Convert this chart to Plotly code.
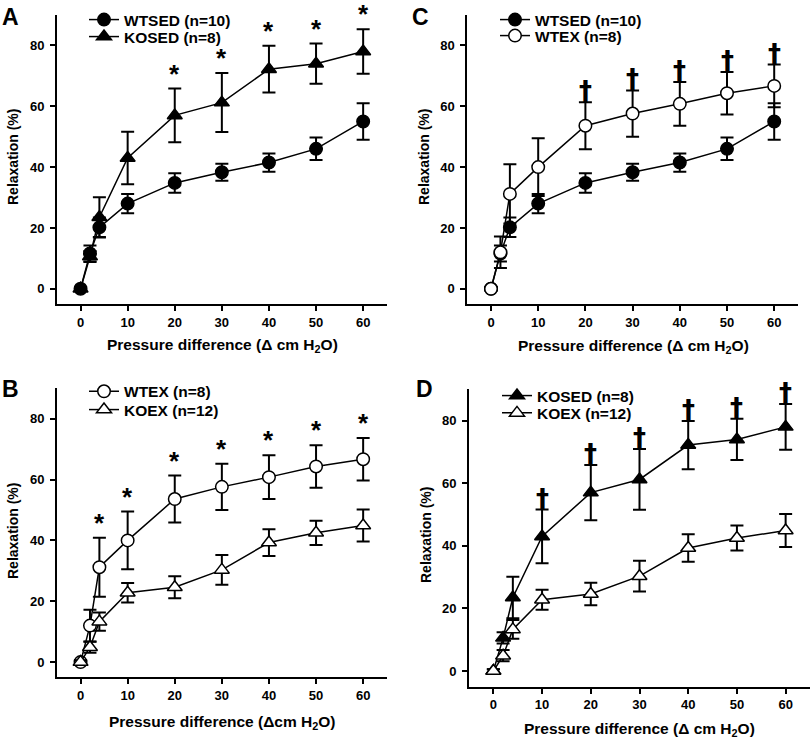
import plotly.graph_objects as go

# ---------------- data ----------------
pressure = [0, 2, 4, 10, 20, 30, 40, 50, 60]

wtsed_mean = [0, 11.6, 20.2, 28.0, 34.8, 38.3, 41.5, 46.0, 55.0]
wtsed_err = [0.6, 2.6, 3.2, 3.2, 3.2, 2.8, 3.0, 3.7, 6.0]

kosed_mean = [0, 10.6, 23.5, 43.0, 57.0, 61.2, 72.2, 74.0, 78.0]
kosed_err = [0.6, 1.8, 6.6, 8.6, 8.8, 9.7, 7.7, 6.6, 7.3]

wtex_mean = [0, 12.0, 31.2, 40.0, 53.6, 57.6, 60.8, 64.3, 66.7]
wtex_err = [0.6, 5.2, 9.7, 9.5, 7.7, 7.6, 7.2, 7.0, 7.0]

koex_mean = [0, 4.9, 13.3, 22.8, 24.6, 30.3, 39.3, 42.5, 44.9]
koex_err = [0.6, 1.8, 3.0, 3.2, 3.6, 4.9, 4.4, 4.0, 5.3]

sig_A = [20, 30, 40, 50, 60]          # * KOSED vs WTSED
sig_B = [4, 10, 20, 30, 40, 50, 60]   # * WTEX vs KOEX
sig_C = [20, 30, 40, 50, 60]          # dagger WTEX vs WTSED
sig_D = [10, 20, 30, 40, 50, 60]      # dagger KOSED vs KOEX

x_ticks = [0, 10, 20, 30, 40, 50, 60]
y_ticks = [0, 20, 40, 60, 80]

FONT = "Liberation Sans, Arial, sans-serif"
W, H = 810, 743

fig = go.Figure()

styles = {
    "WTSED": dict(symbol="circle", fill="black", size=12.5),
    "KOSED": dict(symbol="triangle-up", fill="black", size=13),
    "WTEX": dict(symbol="circle", fill="white", size=12.5),
    "KOEX": dict(symbol="triangle-up", fill="white", size=13),
}
series = {
    "WTSED": (wtsed_mean, wtsed_err, "WTSED (n=10)"),
    "KOSED": (kosed_mean, kosed_err, "KOSED (n=8)"),
    "WTEX": (wtex_mean, wtex_err, "WTEX (n=8)"),
    "KOEX": (koex_mean, koex_err, "KOEX (n=12)"),
}

leg_font = dict(family=FONT, size=15.5, color="black", weight="bold")
legends = {}


def add(name, xa, ya, legend, lx, ly):
    m, e, label = series[name]
    st = styles[name]
    fig.add_trace(go.Scatter(
        x=pressure, y=m, name=label, mode="lines+markers",
        xaxis=xa, yaxis=ya, legend=legend,
        line=dict(color="black", width=1.5),
        marker=dict(symbol=st["symbol"], size=st["size"], color=st["fill"],
                    line=dict(color="black", width=1.5)),
        error_y=dict(type="data", array=e, visible=True, color="black",
                     thickness=2, width=6.5),
    ))
    legends[legend] = dict(x=lx / W, y=1 - ly / H, xanchor="left", yanchor="middle",
                           bgcolor="rgba(0,0,0,0)", font=leg_font, itemwidth=30)


# Panel A
add("KOSED", "x", "y", "legend2", 84, 37)
add("WTSED", "x", "y", "legend", 84, 20)
# Panel C
add("WTSED", "x2", "y2", "legend3", 495, 20)
add("WTEX", "x2", "y2", "legend4", 495, 36)
# Panel B
add("WTEX", "x3", "y3", "legend5", 84, 391.7)
add("KOEX", "x3", "y3", "legend6", 84, 410)
# Panel D
add("KOSED", "x4", "y4", "legend7", 497, 396)
add("KOEX", "x4", "y4", "legend8", 497, 413.3)

# panel geometry in pixels: (left, right, top, bottom)
panels = {
    "": (57, 386.7, 15, 304),
    "2": (467.4, 797.8, 15, 304),
    "3": (57, 386.7, 388.3, 677.3),
    "4": (469, 810, 389.3, 686.7),
}

axis_common = dict(showline=True, linecolor="black", linewidth=2, ticks="outside",
                   ticklen=5, tickwidth=1.5, tickcolor="black", showgrid=False,
                   zeroline=False, tickfont=dict(family=FONT, size=13, color="black", weight="bold"))

for k, (l, r, t, b) in panels.items():
    fig.update_layout(**{
        "xaxis" + k: dict(axis_common, domain=[l / W, r / W], range=[-5, 65],
                          tickvals=x_ticks, anchor="y" + k, ticklabelstandoff=0),
        "yaxis" + k: dict(axis_common, domain=[1 - b / H, 1 - t / H], range=[-5, 90],
                          tickvals=y_ticks, anchor="x" + k, ticklabelstandoff=3),
    })

annotations = []


def txt(x, y, text, size, xanchor="center", yanchor="middle", angle=0):
    annotations.append(dict(x=x / W, y=1 - y / H, xref="paper", yref="paper", text=text,
                            showarrow=False, xanchor=xanchor, yanchor=yanchor, textangle=angle,
                            font=dict(family=FONT, size=size, color="black", weight="bold")))


# panel letters
txt(10, 17, "A", 23)
txt(421, 17, "C", 23)
txt(10, 389, "B", 23)
txt(424, 389, "D", 23)

# axis titles
txt(222.5, 345, "Pressure difference (Δ cm H<sub>2</sub>O)", 15.5)
txt(633.3, 346, "Pressure difference (Δ cm H<sub>2</sub>O)", 15.5)
txt(222.8, 722.7, "Pressure difference (Δcm H<sub>2</sub>O)", 15.5)
txt(639.5, 729, "Pressure difference (Δ cm H<sub>2</sub>O)", 15.5)
txt(13, 157, "Relaxation (%)", 14, angle=-90)
txt(424, 157, "Relaxation (%)", 14, angle=-90)
txt(13, 531, "Relaxation (%)", 14, angle=-90)
txt(426, 535, "Relaxation (%)", 14, angle=-90)


def sig_marks(xs, mean, err, xa, ya, sym, size, yshift, family):
    for xv in xs:
        i = pressure.index(xv)
        annotations.append(dict(x=xv, y=mean[i] + err[i], xref=xa, yref=ya, text=sym,
                                showarrow=False, xanchor="center", yanchor="bottom",
                                yshift=yshift,
                                font=dict(family=family, size=size, color="black", weight="bold")))


sig_marks(sig_A, kosed_mean, kosed_err, "x", "y", "*", 26, -2, FONT)
sig_marks(sig_B, wtex_mean, wtex_err, "x3", "y3", "*", 26, -2, FONT)
DAG = "DejaVu Sans, sans-serif"
sig_marks(sig_C, wtex_mean, wtex_err, "x2", "y2", "†", 26, -6, DAG)
sig_marks(sig_D, kosed_mean, kosed_err, "x4", "y4", "†", 26, -6, DAG)

fig.update_layout(
    width=W, height=H, margin=dict(l=0, r=0, t=0, b=0),
    paper_bgcolor="white", plot_bgcolor="white",
    showlegend=True,
    annotations=annotations,
    **legends,
)

fig.write_html("out.html", config={"displayModeBar": False},
               post_script="document.body.style.margin='0';")
